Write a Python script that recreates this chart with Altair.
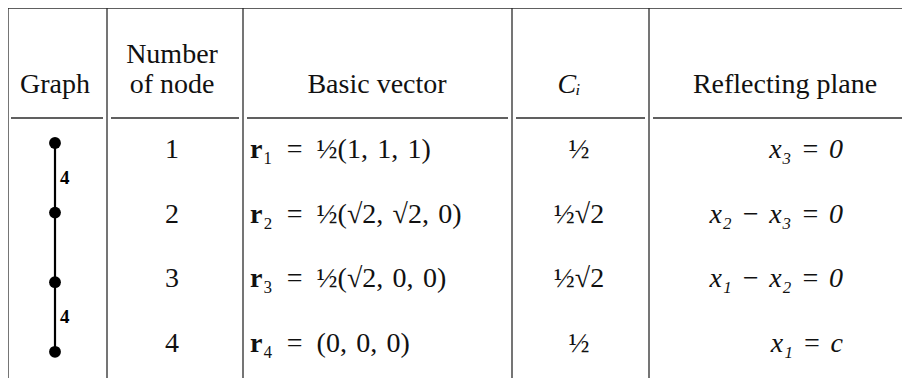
import altair as alt
import pandas as pd

# ---- table content ----
header_lines = [
    ("graph", 1, "Graph"),
    ("node", 0, "Number"),
    ("node", 1, "of node"),
    ("vector", 1, "Basic vector"),
    ("c", 1, "Cᵢ"),
    ("plane", 1, "Reflecting plane"),
]
node_numbers = ["1", "2", "3", "4"]
vector_symbol = ["r", "r", "r", "r"]
vector_rest = ["₁\u2002=\u2002½(1,\u20041,\u20041)", "₂\u2002=\u2002½(√2,\u2004√2,\u20040)",
               "₃\u2002=\u2002½(√2,\u20040,\u20040)", "₄\u2002=\u2002(0,\u20040,\u20040)"]
c_values = ["½", "½√2", "½√2", "½"]
planes = ["x₃\u2004=\u20040", "x₂\u2004−\u2004x₃\u2004=\u20040",
          "x₁\u2004−\u2004x₂\u2004=\u20040", "x₁\u2004=\u2004c"]
edge_labels = ["4", "", "4"]  # branch labels between consecutive graph nodes

# ---- layout (chart pixel units) ----
W, H = 894, 370
SERIF = "Liberation Serif"
FS = 28
INK = "#111111"
LINE = "#2b2b2b"
col_lines = [0, 99, 235, 504, 641]  # vertical rules
header_rule_y = 110
header_base, header_step = 55, 30
row_base, row_step = 150, 64.7
dot_base, dot_step = 135, 69.6
graph_x = 47
header_x = {"graph": 47, "node": 164, "vector": 369, "c": 561, "plane": 777}
node_x, vector_x, c_x, plane_x = 164, 242, 571, 835

xs = alt.Scale(domain=[0, W], nice=False, zero=False)
ys = alt.Scale(domain=[0, H], nice=False, zero=False, reverse=True)
X = lambda f: alt.X(f, type="quantitative", scale=xs, axis=None)
Y = lambda f: alt.Y(f, type="quantitative", scale=ys, axis=None)

# rules
vrules = pd.DataFrame({"x": col_lines, "y": [0] * len(col_lines), "y2": [H] * len(col_lines)})
top_rule = pd.DataFrame({"x": [0], "x2": [W], "y": [0]})
gaps = 4
seg_starts = [3] + [c + gaps for c in col_lines[1:]]
seg_ends = [c - gaps for c in col_lines[1:]] + [W]
hrule = pd.DataFrame({"x": seg_starts, "x2": seg_ends, "y": [header_rule_y] * len(seg_starts)})

v_layer = alt.Chart(vrules).mark_rule(color=LINE, strokeWidth=1.3).encode(x=X("x"), y=Y("y"), y2="y2")
t_layer = alt.Chart(top_rule).mark_rule(color=LINE, strokeWidth=1.6).encode(x=X("x"), x2="x2", y=Y("y"))
h_layer = alt.Chart(hrule).mark_rule(color=LINE, strokeWidth=1.3).encode(x=X("x"), x2="x2", y=Y("y"))

# header
hdf = pd.DataFrame(header_lines, columns=["col", "line", "text"])
hdf["x"] = hdf["col"].map(header_x)
hdf["y"] = header_base + hdf["line"] * header_step
hdf["italic"] = hdf["col"] == "c"
head_plain = alt.Chart(hdf[~hdf["italic"]]).mark_text(
    font=SERIF, fontSize=FS, color=INK, align="center", baseline="alphabetic"
).encode(x=X("x"), y=Y("y"), text="text")
head_ital = alt.Chart(hdf[hdf["italic"]]).mark_text(
    font=SERIF, fontSize=FS, fontStyle="italic", color=INK, align="center", baseline="alphabetic"
).encode(x=X("x"), y=Y("y"), text="text")

# body rows
n = len(node_numbers)
rows = pd.DataFrame({
    "y": [row_base + i * row_step for i in range(n)],
    "node": node_numbers,
    "sym": vector_symbol,
    "rest": vector_rest,
    "c": c_values,
    "plane": planes,
})
rows["node_x"] = node_x
rows["vec_x"] = vector_x
rows["c_x"] = c_x
rows["plane_x"] = plane_x

base_txt = dict(font=SERIF, fontSize=FS, color=INK, baseline="alphabetic")
node_layer = alt.Chart(rows).mark_text(align="center", **base_txt).encode(x=X("node_x"), y=Y("y"), text="node")
sym_layer = alt.Chart(rows).mark_text(align="left", fontWeight="bold", **base_txt).encode(x=X("vec_x"), y=Y("y"), text="sym")
rest_layer = alt.Chart(rows).mark_text(align="left", dx=13, **base_txt).encode(x=X("vec_x"), y=Y("y"), text="rest")
c_layer = alt.Chart(rows).mark_text(align="center", **base_txt).encode(x=X("c_x"), y=Y("y"), text="c")
plane_layer = alt.Chart(rows).mark_text(align="right", fontStyle="italic", **base_txt).encode(x=X("plane_x"), y=Y("y"), text="plane")

# graph (Coxeter-style diagram)
nodes = pd.DataFrame({"x": [graph_x] * n, "y": [dot_base + i * dot_step for i in range(n)]})
edges = pd.DataFrame({
    "x": [graph_x] * (n - 1),
    "y": nodes["y"][:-1].values,
    "y2": nodes["y"][1:].values,
    "label": edge_labels,
})
edges["ym"] = (edges["y"] + edges["y2"]) / 2
edge_layer = alt.Chart(edges).mark_rule(color="#000", strokeWidth=2.2).encode(x=X("x"), y=Y("y"), y2="y2")
label_layer = alt.Chart(edges).mark_text(
    font=SERIF, fontSize=19, fontWeight="bold", color="#000", align="left", baseline="middle", dx=5
).encode(x=X("x"), y=Y("ym"), text="label")
node_dots = alt.Chart(nodes).mark_circle(color="#000", opacity=1, size=140).encode(x=X("x"), y=Y("y"))

chart = alt.layer(
    v_layer, t_layer, h_layer,
    head_plain, head_ital,
    node_layer, sym_layer, rest_layer, c_layer, plane_layer,
    edge_layer, node_dots, label_layer,
).properties(
    width=W, height=H, padding=0, autosize=alt.AutoSizeParams(type="none"), background="white"
).configure_view(strokeWidth=0)

chart.save("out.html", embed_options={"renderer": "svg", "actions": False})
